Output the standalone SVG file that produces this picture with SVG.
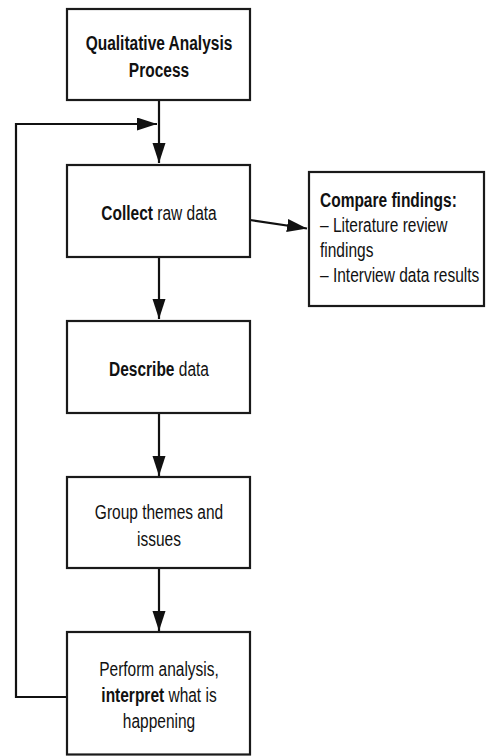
<svg xmlns="http://www.w3.org/2000/svg" width="488" height="756" viewBox="0 0 488 756">
  <style>
    .box { fill: #ffffff; stroke: #1a1a1a; stroke-width: 2.2; }
    .wire { fill: none; stroke: #111111; stroke-width: 2.2; }
    .t { font-family: "Liberation Sans", Arial, sans-serif; font-size: 20px; fill: #111111; }
    .c { text-anchor: middle; }
    .b { font-weight: bold; }
  </style>
  <defs>
    <marker id="arrow" markerUnits="userSpaceOnUse" markerWidth="21" markerHeight="14" refX="20" refY="6.5" orient="auto">
      <path d="M0,0 L20,6.5 L0,13 Z" fill="#111111"/>
    </marker>
  </defs>
  <rect width="488" height="756" fill="#ffffff"/>

  <!-- connectors -->
  <g id="connectors">
    <line class="wire" x1="159" y1="100" x2="159" y2="163" marker-end="url(#arrow)"/>
    <polyline class="wire" points="67,697 16,697 16,124 157,124" marker-end="url(#arrow)"/>
    <line class="wire" x1="250" y1="220" x2="307" y2="228.5" marker-end="url(#arrow)"/>
    <line class="wire" x1="159" y1="257" x2="159" y2="319" marker-end="url(#arrow)"/>
    <line class="wire" x1="159" y1="413" x2="159" y2="476" marker-end="url(#arrow)"/>
    <line class="wire" x1="159" y1="568" x2="159" y2="631" marker-end="url(#arrow)"/>
  </g>

  <!-- process steps -->
  <g id="start">
    <rect class="box" x="67" y="9" width="183" height="91"/>
    <text class="t c b" transform="translate(159,49.5) scale(0.775,1)">Qualitative Analysis</text>
    <text class="t c b" transform="translate(159,76.5) scale(0.775,1)">Process</text>
  </g>

  <g id="collect">
    <rect class="box" x="67" y="165" width="183" height="92"/>
    <text class="t c" transform="translate(159,220) scale(0.775,1)"><tspan class="b">Collect</tspan> raw data</text>
  </g>

  <g id="compare">
    <rect class="box" x="309" y="172" width="175" height="134"/>
    <text class="t" transform="translate(320,207) scale(0.775,1)"><tspan class="b">Compare findings:</tspan></text>
    <text class="t" transform="translate(320,232) scale(0.775,1)">– Literature review</text>
    <text class="t" transform="translate(320,257) scale(0.775,1)">findings</text>
    <text class="t" transform="translate(320,282) scale(0.775,1)">– Interview data results</text>
  </g>

  <g id="describe">
    <rect class="box" x="67" y="321" width="183" height="92"/>
    <text class="t c" transform="translate(159,375.5) scale(0.775,1)"><tspan class="b">Describe</tspan> data</text>
  </g>

  <g id="group">
    <rect class="box" x="67" y="477" width="183" height="91"/>
    <text class="t c" transform="translate(159,518.5) scale(0.775,1)">Group themes and</text>
    <text class="t c" transform="translate(159,545.5) scale(0.775,1)">issues</text>
  </g>

  <g id="perform">
    <rect class="box" x="67" y="632" width="183" height="122.5"/>
    <text class="t c" transform="translate(159,676) scale(0.775,1)">Perform analysis,</text>
    <text class="t c" transform="translate(159,702) scale(0.775,1)"><tspan class="b">interpret</tspan> what is</text>
    <text class="t c" transform="translate(159,727.5) scale(0.775,1)">happening</text>
  </g>
</svg>
